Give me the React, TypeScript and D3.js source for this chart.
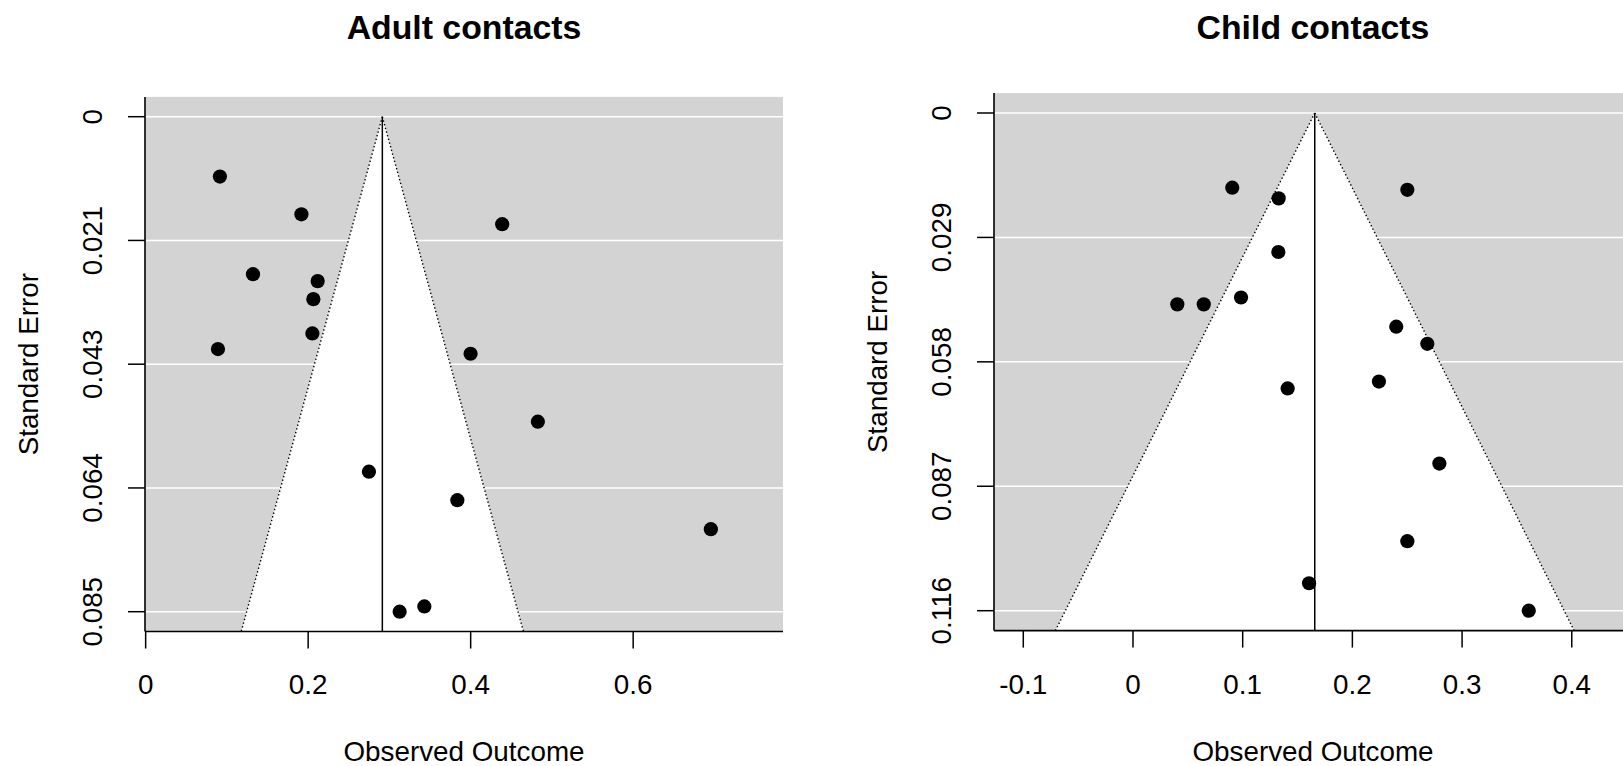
import React from "react";
import { scaleLinear, max } from "d3";

// adult contacts: observed outcome and standard error per study
const adultYi = [0.0914, 0.1917, 0.1321, 0.2117, 0.2064, 0.2052, 0.089, 0.2748, 0.3836, 0.3126, 0.343, 0.4388, 0.3999, 0.4827, 0.6956];
const adultSei = [0.0103, 0.0168, 0.0271, 0.0283, 0.0314, 0.0373, 0.04, 0.0611, 0.066, 0.0852, 0.0843, 0.0185, 0.0408, 0.0525, 0.071];
const adultEstimate = 0.2913;
const adultSeTicks = ["0", "0.021", "0.043", "0.064", "0.085"];
const adultXTicks = [0, 0.2, 0.4, 0.6];

// child contacts
const childYi = [0.0905, 0.1328, 0.1325, 0.0985, 0.0404, 0.0645, 0.141, 0.2242, 0.2793, 0.2501, 0.1605, 0.3608, 0.2501, 0.24, 0.2683];
const childSei = [0.0174, 0.0199, 0.0324, 0.043, 0.0446, 0.0446, 0.0642, 0.0626, 0.0817, 0.0998, 0.1096, 0.116, 0.0179, 0.0498, 0.0538];
const childEstimate = 0.1657;
const childSeTicks = ["0", "0.029", "0.058", "0.087", "0.116"];
const childXTicks = [-0.1, 0, 0.1, 0.2, 0.3, 0.4];

const FONT = "'Liberation Sans', Arial, Helvetica, sans-serif";
const GRAY = "#d3d3d3";
const LABEL_SIZE = 27.8;

type FunnelProps = {
  title: string;
  yi: number[];
  sei: number[];
  estimate: number;
  seTicks: string[];
  xTicks: number[];
  xDomain: [number, number];
  left: number;
  right: number;
  yZero: number;
  yMax: number;
};

function Funnel(props: FunnelProps) {
  const { title, yi, sei, estimate, seTicks, xTicks, xDomain, left, right, yZero, yMax } = props;
  const seMax = max(sei) as number;

  const x = scaleLinear().domain(xDomain).range([left, right]);
  const y = scaleLinear().domain([0, seMax]).range([yZero, yMax]);

  const top = y(-0.04 * seMax);
  const bottom = y(1.04 * seMax);
  const seBot = 1.04 * seMax;
  const lb = estimate - 1.96 * seBot;
  const ub = estimate + 1.96 * seBot;

  const tickVals = seTicks.map((_, i) => (seMax * i) / (seTicks.length - 1));
  const cx = (left + right) / 2;
  const cy = (top + bottom) / 2;

  return (
    <g fontFamily={FONT} fill="black">
      <rect x={left} y={top} width={right - left} height={bottom - top} fill={GRAY} />
      {tickVals.map((v, i) => (
        <line key={"g" + i} x1={left} x2={right} y1={y(v)} y2={y(v)} stroke="white" strokeWidth={1.5} />
      ))}
      <polygon
        points={`${x(estimate)},${y(0)} ${x(lb)},${y(seBot)} ${x(ub)},${y(seBot)}`}
        fill="white"
      />
      <line x1={x(estimate)} y1={y(0)} x2={x(lb)} y2={y(seBot)} stroke="black" strokeWidth={1.4} strokeDasharray="1.4 2.4" />
      <line x1={x(estimate)} y1={y(0)} x2={x(ub)} y2={y(seBot)} stroke="black" strokeWidth={1.4} strokeDasharray="1.4 2.4" />
      <line x1={x(estimate)} y1={y(0)} x2={x(estimate)} y2={bottom} stroke="black" strokeWidth={1.5} />

      {yi.map((d, i) => (
        <circle key={"p" + i} cx={x(d)} cy={y(sei[i])} r={7.1} fill="black" />
      ))}

      {/* L-shaped box */}
      <line x1={left} x2={left} y1={top} y2={bottom} stroke="black" strokeWidth={1.6} />
      <line x1={left} x2={right} y1={bottom} y2={bottom} stroke="black" strokeWidth={1.6} />

      {/* y axis */}
      {tickVals.map((v, i) => (
        <g key={"yt" + i}>
          <line x1={left - 17} x2={left} y1={y(v)} y2={y(v)} stroke="black" strokeWidth={1.5} />
          <text
            transform={`translate(${left - 43.3},${y(v)}) rotate(-90)`}
            textAnchor="middle"
            fontSize={LABEL_SIZE}
          >
            {seTicks[i]}
          </text>
        </g>
      ))}

      {/* x axis */}
      {xTicks.map((t, i) => (
        <g key={"xt" + i}>
          <line x1={x(t)} x2={x(t)} y1={bottom} y2={bottom + 17} stroke="black" strokeWidth={1.5} />
          <text x={x(t)} y={693.5} textAnchor="middle" fontSize={LABEL_SIZE}>
            {String(t)}
          </text>
        </g>
      ))}

      <text x={cx} y={761} textAnchor="middle" fontSize={LABEL_SIZE}>
        Observed Outcome
      </text>
      <text transform={`translate(${left - 107.5},${cy}) rotate(-90)`} textAnchor="middle" fontSize={LABEL_SIZE}>
        Standard Error
      </text>
      <text x={cx} y={39} textAnchor="middle" fontSize={33.8} fontWeight="bold">
        {title}
      </text>
    </g>
  );
}

export default function App() {
  return (
    <svg
      width={1623}
      height={766}
      style={{ position: "absolute", left: 0, top: 0, background: "white" }}
    >
      <Funnel
        title="Adult contacts"
        yi={adultYi}
        sei={adultSei}
        estimate={adultEstimate}
        seTicks={adultSeTicks}
        xTicks={adultXTicks}
        xDomain={[-0.0008, 0.7844]}
        left={145}
        right={783}
        yZero={116.7}
        yMax={611.7}
      />
      <Funnel
        title="Child contacts"
        yi={childYi}
        sei={childSei}
        estimate={childEstimate}
        seTicks={childSeTicks}
        xTicks={childXTicks}
        xDomain={[-0.1267, 0.4549]}
        left={994}
        right={1632}
        yZero={113}
        yMax={610.7}
      />
    </svg>
  );
}
